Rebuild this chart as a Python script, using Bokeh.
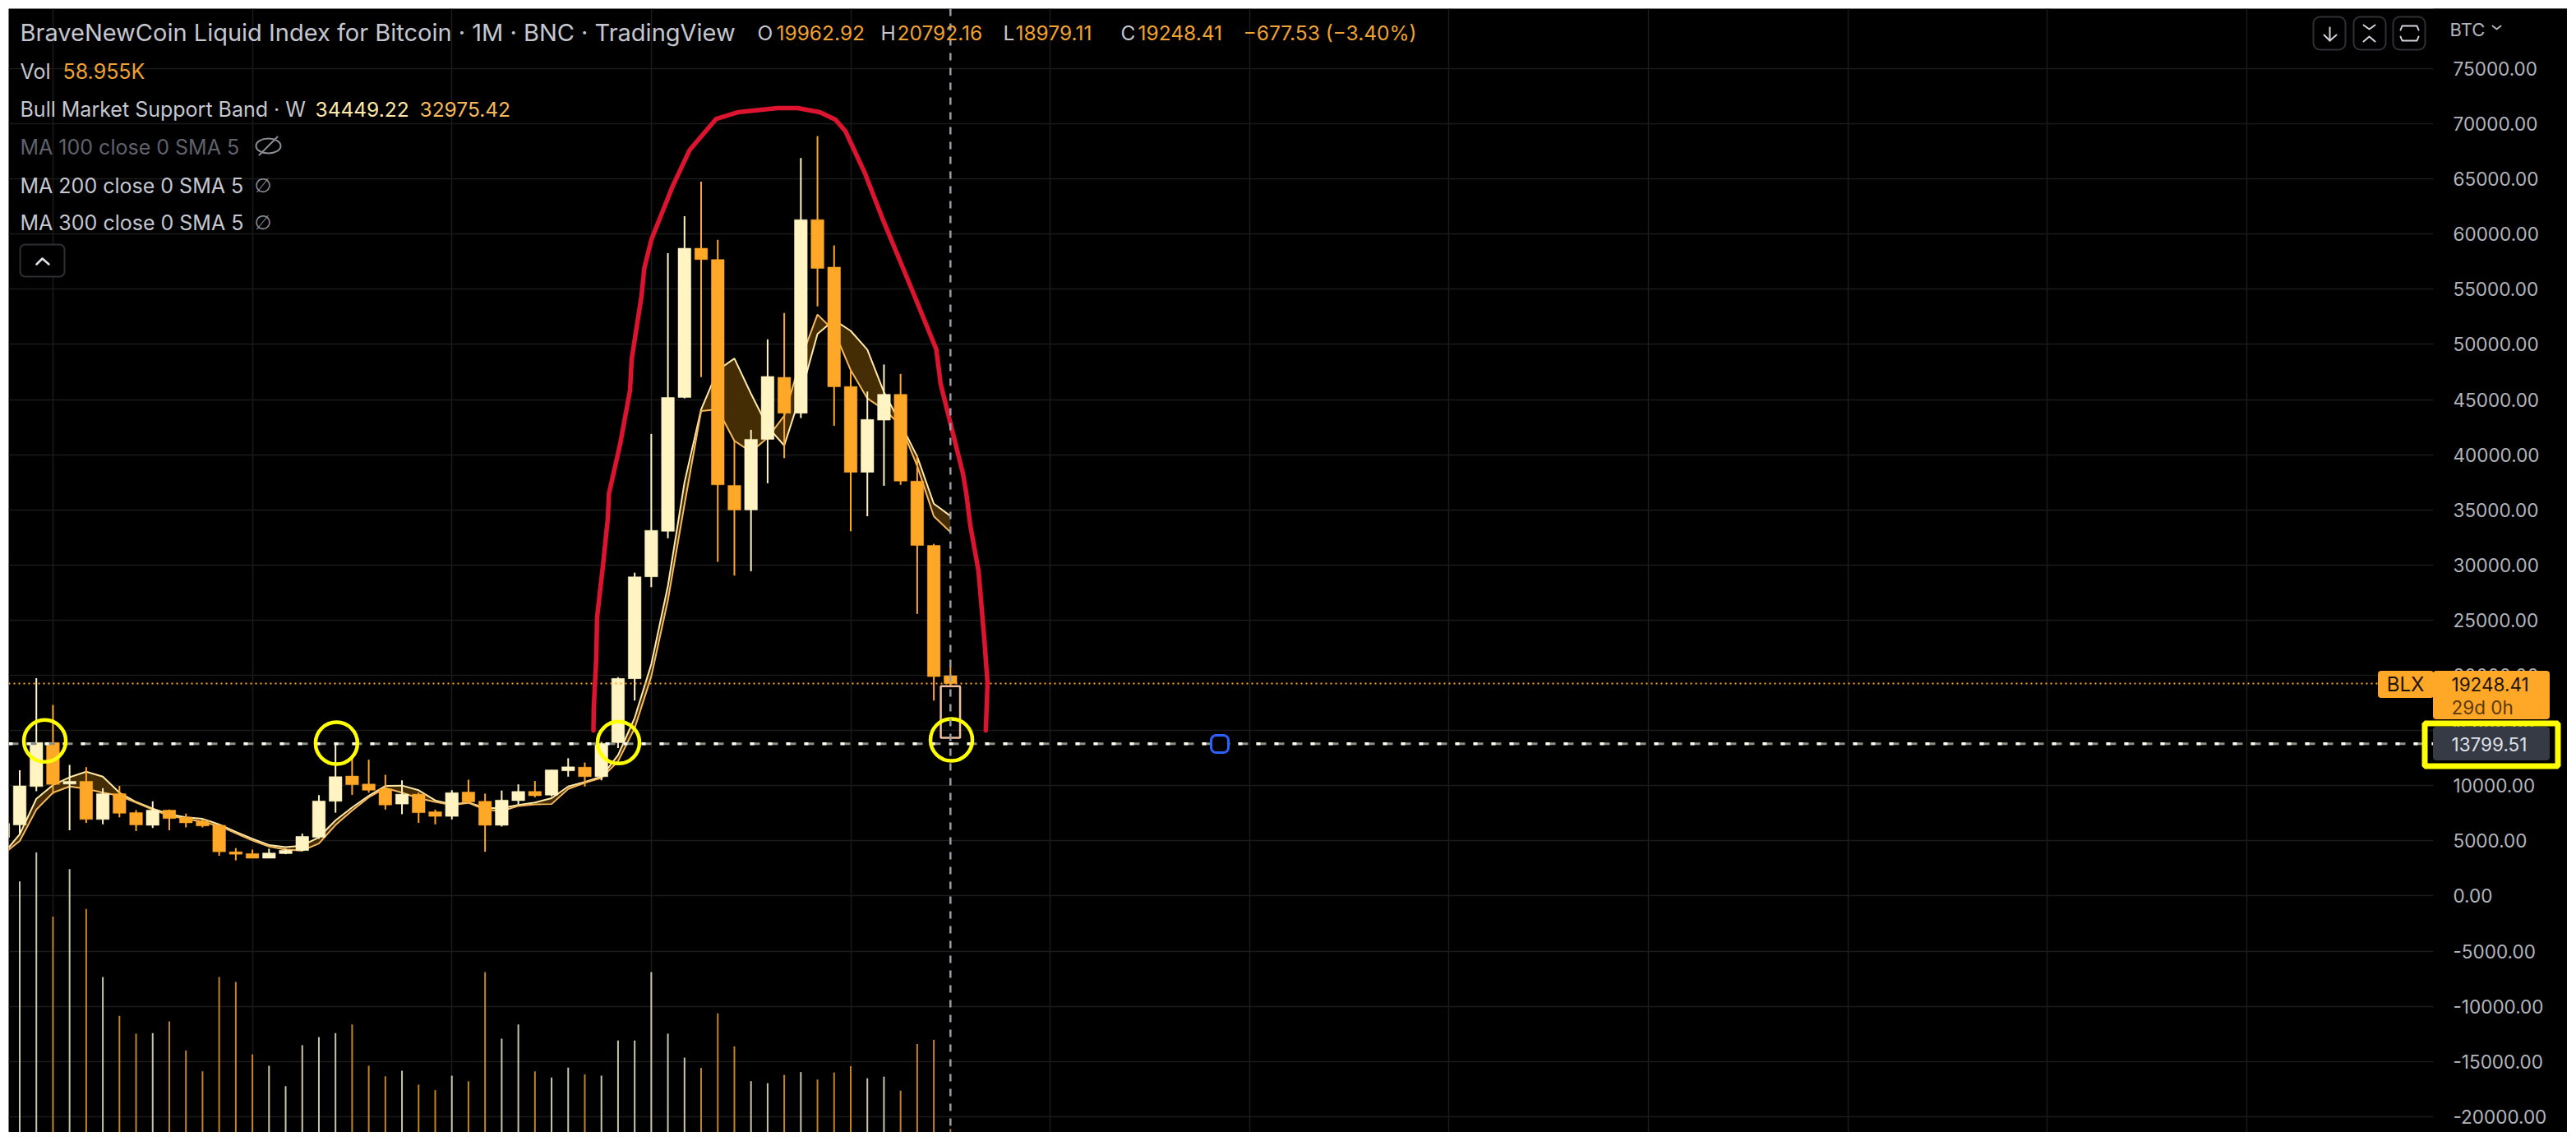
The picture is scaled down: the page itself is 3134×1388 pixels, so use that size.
from bokeh.plotting import figure
from bokeh.embed import file_html
from bokeh.resources import INLINE
from bokeh.models import (Range1d, FixedTicker, Span, Label, BoxAnnotation,
                          ColumnDataSource, NumeralTickFormatter)

# ---------- data ----------
months = list(range(-1, 57))
highs = [6600, 11398, 19740, 17313, 11872, 11677, 9780, 9975, 7771, 8580, 7827, 7464, 6934, 6487, 4339, 4199,
         4283, 4283, 5650, 9138, 13825, 12430, 12346, 10979, 10477, 9361, 7827, 9584, 10533, 9277, 9556, 10114,
         10421, 11426, 12486, 12095, 13964, 19823, 29302, 41880, 58255, 61616, 64749, 59480, 41253, 42250, 50452,
         52844, 66885, 68878, 58967, 47660, 45724, 48173, 47319, 39971, 31912, 20792.16]
lows = [5000, 5595, 9500, 9221, 5957, 6627, 6487, 7129, 5873, 6152, 5957, 6208, 6208, 3642, 3223, 3418,
        3418, 3781, 4060, 5176, 7547, 9166, 9361, 7827, 7408, 6627, 6487, 6934, 8385, 4004, 6292, 8301,
        8943, 9026, 10812, 9919, 10477, 13406, 17711, 27993, 32424, 45098, 47034, 30288, 29040, 29433, 37408,
        39687, 43332, 53442, 42620, 33051, 34418, 37180, 37266, 25563, 17711, 18979.11]
opens = [5300, 6431, 9919, 13909, 10142, 10393, 6934, 9277, 7547, 6404, 7771, 7129, 6794, 6404, 4004, 3837,
         3418, 3837, 4116, 5315, 8580, 10867, 10142, 9696, 8329, 9222, 7631, 7213, 9417, 8580, 6404, 8636,
         9473, 9138, 11342, 11677, 10812, 13881, 19692, 28928, 33051, 45183, 58711, 57686, 37209, 34987, 41395,
         47006, 43759, 61303, 57002, 46180, 38405, 43132, 45468, 37607, 31770, 19962.92]
closes = [6571, 9975, 13909, 10114, 10393, 6934, 9277, 7492, 6431, 7771, 7017, 6627, 6348, 4004, 3781, 3418,
          3893, 4144, 5399, 8608, 10812, 10086, 9584, 8245, 9222, 7547, 7213, 9361, 8524, 6404, 8691, 9473,
          9082, 11426, 11705, 10812, 13825, 19712, 28928, 33136, 45183, 58711, 57686, 37266, 34987, 41395, 47091,
          43759, 61303, 56888, 46151, 38405, 43189, 45468, 37607, 31770, 19879, 19248.41]
volumes_k = [0, 4487, 5005, 3858, 4707, 3996, 2778, 2084, 1764, 1775, 1984, 1461, 1091, 2778, 2690, 1395,
             1191, 827, 1560, 1703, 1775, 1929, 1191, 1003, 1102, 854, 755, 1014, 915, 2866, 1676, 1929,
             1091, 981, 1158, 1036, 1014, 1643, 1643, 2866, 1765, 1337, 1152, 2128, 1537, 916, 879,
             1027, 1078, 945, 1071, 1182, 968, 997, 746, 1581, 1655, 58.955]
band_sma = [3781, 5595, 8803, 10059, 10756, 11258, 10812, 9361, 8524, 7910, 7408, 7129, 6990, 6487, 5818, 5176,
            4618, 4423, 4562, 5315, 6850, 8022, 9082, 9975, 10003, 9584, 8664, 8301, 8468, 7966, 7966, 8245,
            8468, 8859, 9919, 10337, 10812, 12765, 16140, 21000, 28105, 37500, 44100, 47661, 48715, 45525, 42534,
            40826, 45525, 50936, 52218, 51221, 49512, 45667, 42819, 39829, 35557, 34449.22]
band_ema = [3781, 4981, 7827, 9361, 9919, 9724, 9361, 9082, 8468, 7827, 7268, 6990, 6710, 6348, 5678, 5036,
            4479, 4199, 4116, 4757, 6431, 7743, 8943, 9780, 9361, 8859, 8524, 8245, 8440, 7827, 7687, 8161,
            8301, 8329, 9696, 10254, 10700, 12200, 15200, 19900, 26800, 35500, 43958, 44100, 41253, 40256, 41538,
            43531, 48657, 52702, 51221, 47661, 45098, 44101, 42677, 38974, 34418, 32975.42]
ink_month = [34.52, 34.54, 34.69, 34.74, 35.11, 35.39, 35.45, 36.13, 36.72, 36.82, 37.41, 37.58, 38.01, 39.29, 40.31,
             41.91, 43.2, 45.6, 46.81, 48.14, 49.08, 49.68, 50.87, 51.9, 53.62, 55.15, 55.41, 56.75, 56.95, 57.2,
             57.69, 58.03, 58.23, 58.13]
ink_price = [15015, 17098, 21562, 25283, 30193, 34286, 36443, 40982, 45818, 48646, 54375, 56905, 59509, 64345, 67619,
             70446, 71042, 71414, 71414, 71042, 70372, 69330, 65461, 61443, 55193, 49539, 46414, 38304, 36518, 33542,
             29449, 23423, 19330, 15015]
touch_month = [1.51, 19.06, 36.03, 56.06]
touch_price = [14050, 13850, 13900, 14150]
price_ticks = [-20000, -15000, -10000, -5000, 0, 5000, 10000, 15000, 20000, 25000, 30000, 35000, 40000, 45000, 50000,
               55000, 60000, 65000, 70000, 75000]
month_grid = [2, 14, 26, 38, 50, 62, 74, 86, 98, 110, 122, 134]
last_price = 19248.41
level_price = 13799.51
ghost_top, ghost_bottom = 19020, 14346

# ---------- style ----------
CREAM, ORANGE = "#FFF4C2", "#FFA726"
VOL_CREAM, VOL_ORANGE = "#C9C5A8", "#C48420"
TEXT, DIM = "#C4C7CF", "#5F626B"
FONT = "Inter"

W, H = 3113, 1367
LEFT, TOP = 10, 10
FRAME_R = 2960
PX_PER_MONTH, X0 = 20.22, 23.5
PX_PER_USD, Y70K = 0.01342, 150.0

def px(x):
    return (x - X0) / PX_PER_MONTH

def py(y):
    return 70000 - (y - Y70K) / PX_PER_USD

p = figure(width=W, height=H, output_backend="svg", toolbar_location=None,
           x_range=Range1d(px(LEFT), px(LEFT + W)), y_range=Range1d(py(TOP + H), py(TOP)),
           x_axis_location=None, y_axis_location="right",
           background_fill_color="#000000", border_fill_color="#000000",
           min_border_left=0, min_border_top=0, min_border_bottom=0, min_border_right=0,
           margin=(TOP, 0, 0, LEFT))
p.outline_line_color = None

ax = p.yaxis[0]
ax.fixed_location = px(FRAME_R)
ax.ticker = FixedTicker(ticks=price_ticks)
ax.formatter = NumeralTickFormatter(format="0.00")
ax.major_tick_line_color = None
ax.minor_tick_line_color = None
ax.axis_line_color = None
ax.major_label_standoff = 18
ax.major_label_text_font = FONT
ax.major_label_text_font_size = "22.5px"
ax.major_label_text_color = "#B2B5BC"

p.xgrid.ticker = FixedTicker(ticks=month_grid)
p.ygrid.ticker = FixedTicker(ticks=price_ticks)
p.xgrid.grid_line_color = "#1B1B1B"
p.ygrid.grid_line_color = "#1B1B1B"
p.xgrid.grid_line_width = 1.5
p.ygrid.grid_line_width = 1.5

p.extra_y_ranges = {"vol": Range1d(0, H * 14.7)}

# the price-axis strip hides the grid
p.add_layout(BoxAnnotation(left=px(FRAME_R), right=px(LEFT + W), fill_color="#000000", fill_alpha=1,
                           line_alpha=0, level="glyph"))

up = [c >= o for o, c in zip(opens, closes)]
src = ColumnDataSource(dict(
    month=months, high=highs, low=lows,
    top=[max(o, c) for o, c in zip(opens, closes)],
    bottom=[min(o, c) for o, c in zip(opens, closes)],
    color=[CREAM if u else ORANGE for u in up],
    vol=volumes_k, vol0=[0] * len(months),
    volcolor=[VOL_CREAM if u else VOL_ORANGE for u in up],
))

# volume
p.segment("month", "vol0", "month", "vol", source=src, line_color="volcolor", line_width=2, y_range_name="vol")

# support band
p.varea(months, band_sma, band_ema, fill_color="#442C05")
p.line(months, band_sma, line_color="#FFE9A8", line_width=2)
p.line(months, band_ema, line_color="#F5B95C", line_width=2)

# candles
p.segment("month", "low", "month", "high", source=src, line_color="color", line_width=2)
p.vbar("month", 0.77, "bottom", "top", source=src, fill_color="color", line_color="color", line_width=0.5)

# ghost box of the last candle
p.quad(left=[56 - 0.58], right=[56 + 0.58], top=[ghost_top], bottom=[ghost_bottom], fill_color=None,
       line_color="#F0BFA0", line_width=2.5)

# crosshair and price lines
p.add_layout(Span(location=56, dimension="height", line_color="#9A9DA6", line_width=2.5, line_dash="9 9"))
edge = [px(LEFT), px(FRAME_R)]
p.line(edge, [last_price] * 2, line_color=ORANGE, line_width=2, line_dash="2 4")
p.line(edge, [level_price] * 2, line_color="#8E8E88", line_width=3, line_dash="12 10")
p.line(edge, [level_price] * 2, line_color="#FFFFF0", line_width=3.5, line_dash="5 17")

# hand-drawn ink
ink = p.line(ink_month, ink_price, line_color="#DC1430", line_width=5.5, line_cap="round", line_join="round")
ink.level = "annotation"
rings = p.scatter(touch_month, touch_price, marker="circle", size=51, fill_color=None, line_color="#FFFF00", line_width=4.5)
rings.level = "annotation"


def box(l, t, r, b, fill, line=None, lw=1, radius=0):
    p.add_layout(BoxAnnotation(left=px(l), right=px(r), top=py(t), bottom=py(b), fill_color=fill,
                               fill_alpha=1 if fill else 0, line_color=line, line_alpha=1 if line else 0,
                               line_width=lw, border_radius=radius, level="annotation"))


def label(x, y, text, color=TEXT, size=24, font=FONT, align="left", style="normal"):
    p.add_layout(Label(x=px(x), y=py(y), text=text, text_color=color, text_font=font,
                       text_font_size=f"{size}px", text_align=align, text_baseline="middle",
                       text_font_style=style, level="overlay"))


def stroke(xs, ys, color="#D1D4DC", lw=2):
    r = p.line([px(x) for x in xs], [py(y) for y in ys], line_color=color, line_width=lw, line_cap="round",
               line_join="round")
    r.level = "overlay"


# level handle
box(1473, 894, 1494, 915, "#000000", "#2962FF", 3, 6)

# header
label(24, 39, "BraveNewCoin Liquid Index for Bitcoin · 1M · BNC · TradingView", TEXT, 29)
for x, t in [(921, "O"), (1071, "H"), (1220, "L"), (1363, "C")]:
    label(x, 39, t, TEXT, 24.5)
for x, t in [(944, "19962.92"), (1091, "20792.16"), (1235, "18979.11"), (1384, "19248.41"),
             (1512, "−677.53 (−3.40%)")]:
    label(x, 39, t, "#F0A232", 24.5)
label(24, 86, "Vol", TEXT, 25)
label(76, 86, "58.955K", "#F0A232", 25)
label(24, 132, "Bull Market Support Band · W", TEXT, 25)
label(383, 132, "34449.22", "#FFE9A8", 24.5)
label(510, 132, "32975.42", "#F5B95C", 24.5)
label(24, 178, "MA 100 close 0 SMA 5", DIM, 25)
label(24, 225, "MA 200 close 0 SMA 5", TEXT, 25)
label(24, 270, "MA 300 close 0 SMA 5", TEXT, 25)
label(309, 225, "∅", "#8A8D95", 24, "DejaVu Sans")
label(309, 270, "∅", "#8A8D95", 24, "DejaVu Sans")
eye = p.ellipse([px(326)], [py(177)], width=30 / PX_PER_MONTH, height=18 / PX_PER_USD, fill_color=None,
                line_color="#8A8D95", line_width=2)
eye.level = "overlay"
stroke([315, 337], [188, 166], "#8A8D95")
box(24, 297, 78, 336, "#000000", "#2E2E33", 2, 6)
stroke([44, 51, 59], [321, 314, 321], "#E0E3EA", 2.5)

# top-right buttons
for l in (2814, 2863, 2911):
    box(l, 20, l + 39, 60, "#000000", "#303034", 2, 8)
stroke([2834, 2834], [33, 49])
stroke([2827, 2834, 2842], [42, 49, 42])
stroke([2875, 2882, 2889], [30, 35, 30])
stroke([2875, 2882, 2889], [50, 44, 50])
stroke([2920, 2922, 2940, 2942], [36, 31, 31, 36])
stroke([2920, 2922, 2940, 2942], [44, 49, 49, 44])

# price axis tags
label(2980, 35, "BTC", "#B2B5BC", 22)
stroke([3032, 3037, 3042], [31, 35, 31], "#B2B5BC")
box(2893, 816, 2960, 848, ORANGE, ORANGE, 1, 3)
label(2926, 832, "BLX", "#1C1408", 24, align="center")
box(2960, 816, 3101, 874, ORANGE, ORANGE, 1, 3)
label(2982, 832, "19248.41", "#1C1408", 22.5)
label(2982, 860, "29d 0h", "#5A3A08", 22.5)
box(2960, 884, 3101, 924, "#363A45", "#363A45", 1, 3)
label(2982, 905, "13799.51", "#DDE0E6", 22.5)
box(2949.5, 879.5, 3111.5, 931.5, None, "#FFFF00", 7)

open("out.html", "w").write(file_html(p, INLINE))
